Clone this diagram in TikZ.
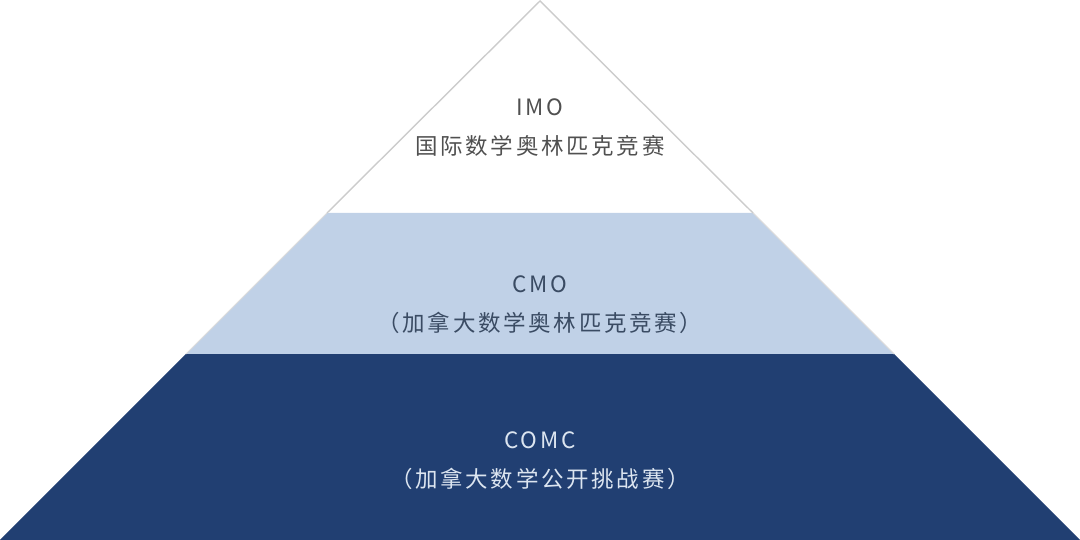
\documentclass[tikz,border=0pt]{standalone}
\usepackage{fontspec}
\newfontfamily\cjk[LetterSpace=12]{Noto Sans CJK SC}
\definecolor{tierdark}{HTML}{213F72}
\definecolor{tierlight}{HTML}{C0D1E7}
\definecolor{edgegray}{HTML}{CCCCCC}
\definecolor{textgray}{HTML}{505050}
\definecolor{textslate}{HTML}{3A4B63}
\definecolor{textpale}{HTML}{DCE5F0}
\tikzstyle{tier}=[draw=none]
\tikzstyle{tierlabel}=[align=center, inner sep=0pt, font=\cjk\fontsize{6.4}{11}\selectfont]

\begin{document}
\begin{tikzpicture}
						\useasboundingbox (0,0) rectangle (10.8,5.4);
						% First we draw the three bands of the pyramid
						\coordinate (apex) at (5.4,5.39);
						\fill[tier, tierdark] (0,0) -- (10.8,0) -- (8.94,1.86) -- (1.86,1.86) -- cycle;
						\fill[tier, tierlight] (1.86,1.86) -- (8.94,1.86) -- (7.53,3.27) -- (3.27,3.27) -- cycle;
						\draw[edgegray, line width=0.4pt] (3.27,3.27) -- (apex) -- (7.53,3.27);
						\draw[edgegray!70, line width=0.3pt] (1.86,1.86) -- (3.27,3.27) (8.94,1.86) -- (7.53,3.27);
			
						% Then the names of the competitions
						\foreach \pos/\name/\abbr/\full/\col in {{(5.4,4.125)/imo/IMO/国际数学奥林匹克竞赛/textgray}, {(5.4,2.35)/cmo/CMO/（加拿大数学奥林匹克竞赛）/textslate}, {(5.4,0.79)/comc/COMC/（加拿大数学公开挑战赛）/textpale}}
						\node[tierlabel, text=\col] (\name) at \pos {\abbr\\\full};
					\end{tikzpicture}
\end{document}
